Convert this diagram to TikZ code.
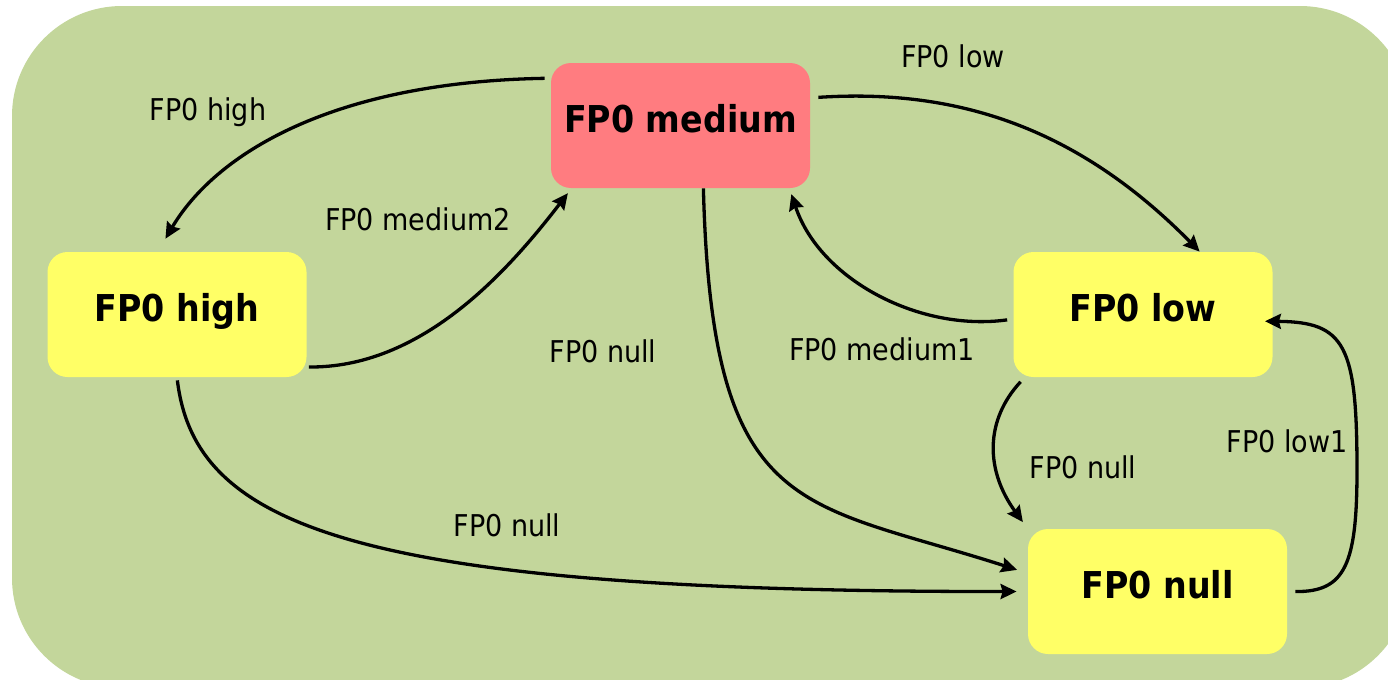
\documentclass[tikz,border=0pt]{standalone}
\usepackage{fontspec}
\setmainfont{DejaVu Sans Condensed}
\usetikzlibrary{arrows.meta}
\definecolor{bggreen}{HTML}{C3D69B}
\definecolor{boxyellow}{HTML}{FFFF66}
\definecolor{boxred}{HTML}{FF7C80}
\tikzset{
  statebox/.style={rounded corners=10pt, minimum width=129.5pt, minimum height=62.5pt,
    inner sep=0pt, font=\fontsize{18.5}{22}\selectfont\bfseries,
    text height=14pt, text depth=7pt},
  lbl/.style={anchor=base, inner sep=0pt, font=\fontsize{15}{18}\selectfont},
  trans/.style={line width=1.65pt, -{Stealth[length=8pt,width=7.5pt,inset=1pt]}},
}
\begin{document}
\begin{tikzpicture}[x=0.5pt, y=-0.5pt]
              \useasboundingbox (0,0) rectangle (1388,680);
              \begin{scope}
                \clip (0,0) rectangle (1388,680);
                \fill[bggreen, rounded corners=55pt] (12,6) rectangle (1410,688);
              \end{scope}
              % states
              \node[statebox, fill=boxred] (fpmed) at (680.5,125.5) {FP0 medium};
              \node[statebox, fill=boxyellow] (fphigh) at (177,314.5) {FP0 high};
              \node[statebox, fill=boxyellow] (fplow) at (1143,314.5) {FP0 low};
              \node[statebox, fill=boxyellow] (fpnull) at (1157.5,591.5) {FP0 null};
              % transitions
              \draw[trans, shorten <=3pt, shorten >=7.5pt] (fpmed.160) .. controls (330,82) and (215,155) .. (fphigh.107);
              \draw[trans, shorten <=1pt, shorten >=3pt] (fphigh.338) .. controls (420,368) and (505,275) .. (fpmed.210);
              \draw[trans, shorten <=4pt] (fpmed.12) .. controls (960,88) and (1080,130) .. (fplow.48);
              \draw[trans, shorten <=3pt, shorten >=3pt] (fplow.182) .. controls (920,332) and (820,280) .. (fpmed.330);
              \draw[trans, shorten >=5.5pt] (fpmed.290) .. controls (712,520) and (800,500) .. (fpnull.172);
              \draw[trans, shorten <=1.5pt, shorten >=5.5pt] (fphigh.south) .. controls (195,525) and (350,592) .. (fpnull.west);
              \draw[trans, shorten <=3pt, shorten >=4pt] (fplow.208) .. controls (985,420) and (985,470) .. (fpnull.north west);
              \draw[trans, shorten <=4pt, shorten >=-4pt] (fpnull.east) .. controls (1345,592) and (1357,565) .. (1357,470)
                .. controls (1357,345) and (1345,322) .. (fplow.357);
              % labels
              \node[lbl] (lhigh) at (208,120) {FP0 high};
              \node[lbl] (lmed2) at (418,230) {FP0 medium2};
              \node[lbl] (llow) at (953,68) {FP0 low};
              \node[lbl] (lmed1) at (882,360) {FP0 medium1};
              \node[lbl] (lnullm) at (603,362) {FP0 null};
              \node[lbl] (lnullh) at (507,536) {FP0 null};
              \node[lbl] (lnulll) at (1083,478) {FP0 null};
              \node[lbl] (llow1) at (1287,452) {FP0 low1};
\end{tikzpicture}
\end{document}
